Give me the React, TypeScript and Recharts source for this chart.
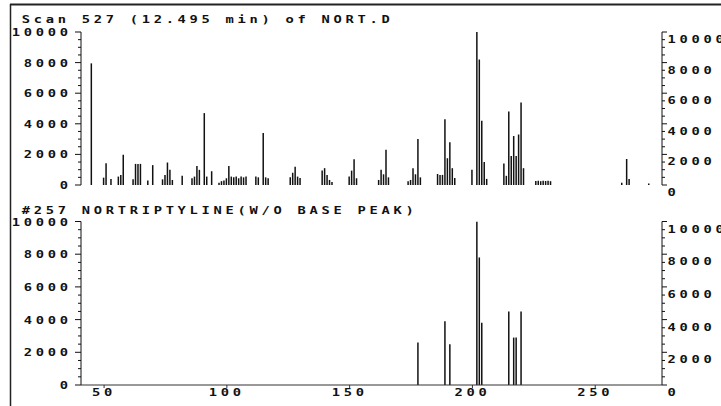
import React from 'react';
import { BarChart, Bar, XAxis, YAxis } from 'recharts';

// Scan 527 of NORT.D (m/z, abundance)
const scanMz = [
  45, 50, 51, 53, 56, 57, 58, 62, 63, 64, 65, 68, 70, 74, 75, 76, 77, 78, 82,
  86, 87, 88, 89, 91, 92, 94, 97, 98, 99, 100, 101, 102, 103, 104, 105, 106,
  107, 108, 112, 113, 115, 116, 117, 126, 127, 128, 129, 130, 139, 140, 141,
  142, 143, 150, 151, 152, 153, 162, 163, 164, 165, 166, 174, 175, 176, 177,
  178, 179, 186, 187, 188, 189, 190, 191, 192, 193, 200, 202, 203, 204, 205,
  206, 213, 214, 215, 216, 217, 218, 219, 220, 221, 226, 227, 228, 229, 230,
  231, 232, 261, 263, 264, 272,
];
const scanAbundance = [
  7950, 480, 1420, 400, 550, 650, 1970, 370, 1380, 1380, 1380, 300, 1300, 370,
  660, 1470, 990, 330, 600, 440, 550, 1250, 990, 4700, 550, 900, 150, 250, 300,
  440, 1250, 550, 500, 550, 440, 550, 500, 550, 550, 500, 3400, 500, 440, 500,
  800, 1200, 550, 450, 940, 1100, 660, 330, 200, 550, 940, 1690, 440, 330, 990,
  700, 2300, 500, 250, 330, 1100, 700, 3000, 500, 720, 660, 660, 4300, 1750,
  2800, 1100, 450, 1000, 10000, 8200, 4200, 1500, 400, 1400, 600, 4800, 1900,
  3200, 1900, 3300, 5400, 1100, 260, 280, 250, 280, 260, 270, 250, 150, 1700,
  400, 100,
];

// #257 library spectrum (without base peak)
const libMz = [178, 189, 191, 202, 203, 204, 215, 217, 218, 220];
const libAbundance = [2600, 3900, 2500, 10000, 7800, 3800, 4500, 2900, 2900, 4500];

const massTicks = [50, 100, 150, 200, 250];
const labelTicks = [0, 2000, 4000, 6000, 8000, 10000];
const abundanceTicks = Array.from({ length: 21 }, (_, i) => i * 500);

const massDomain: [number, number] = [40.6, 277.2];
const abDomain: [number, number] = [0, 10000];

const scanData = scanMz.map((mz, i) => ({ mz, ab: scanAbundance[i] }));
const libData = libMz.map((mz, i) => ({ mz, ab: libAbundance[i] }));

const INK = '#111';
// plotter lettering: monospace, stretched sideways, 12px pitch
const SX = 1.25;
const txt: React.CSSProperties = {
  fontFamily: '"DejaVu Sans Mono", monospace',
  fontSize: 11,
  fontWeight: 700,
  letterSpacing: 2.98,
  fill: INK,
};

const PlotText = ({ x, y, anchor = 'start', children }: any) => (
  <text
    transform={`translate(${x},${y}) scale(${SX},1)`}
    textAnchor={anchor}
    style={txt}
  >
    {children}
  </text>
);

const LeftTick = (props: any) => {
  const { x, y, payload } = props;
  const major = labelTicks.includes(payload.value);
  return (
    <g>
      <line x1={x - (major ? 6 : 3)} x2={x} y1={y} y2={y} stroke={INK} />
      {major && (
        <PlotText x={x - 9.3} y={y + 4} anchor="end">
          {payload.value}
        </PlotText>
      )}
    </g>
  );
};

const RightTick = (props: any) => {
  const { x, y, payload } = props;
  const major = labelTicks.includes(payload.value);
  return (
    <g>
      <line x1={x} x2={x + (major ? 5 : 3)} y1={y} y2={y} stroke={INK} />
      {major && (
        <PlotText x={x + 5.5} y={y + 11}>
          {payload.value}
        </PlotText>
      )}
    </g>
  );
};

const MassTick = (props: any) => {
  const { x, y, payload } = props;
  return (
    <PlotText x={x} y={y + 8} anchor="middle">
      {payload.value}
    </PlotText>
  );
};

interface PanelProps {
  data: { mz: number; ab: number }[];
  height: number;
  top: number;
  showMass: boolean;
}

const Panel = ({ data, height, top, showMass }: PanelProps) => (
  <BarChart
    width={721}
    height={height}
    data={data}
    margin={{ top, right: 0, bottom: showMass ? 0 : 15, left: 0 }}
  >
    <XAxis
      type="number"
      dataKey="mz"
      domain={massDomain}
      allowDataOverflow
      ticks={massTicks}
      interval={0}
      hide={!showMass}
      height={21}
      tickSize={3}
      tickMargin={0}
      stroke="#333"
      tick={<MassTick />}
    />
    <YAxis
      yAxisId="l"
      width={81}
      domain={abDomain}
      allowDataOverflow
      ticks={abundanceTicks}
      interval={0}
      tickSize={0}
      tickMargin={0}
      tickLine={false}
      stroke={INK}
      tick={<LeftTick />}
    />
    <YAxis
      yAxisId="r"
      orientation="right"
      width={59}
      type="number"
      domain={abDomain}
      allowDataOverflow
      ticks={abundanceTicks}
      interval={0}
      tickSize={0}
      tickMargin={0}
      tickLine={false}
      stroke={INK}
      tick={<RightTick />}
    />
    <Bar yAxisId="l" dataKey="ab" fill={INK} barSize={1.5} isAnimationActive={false} />
  </BarChart>
);

export default function App() {
  return (
    <div
      style={{
        position: 'absolute',
        left: 0,
        top: 0,
        width: 721,
        height: 406,
        background: '#fff',
        overflow: 'hidden',
      }}
    >
      <div style={{ position: 'absolute', left: 0, top: 0 }}>
        <Panel data={scanData} height={200} top={32} showMass={false} />
      </div>
      <div style={{ position: 'absolute', left: 0, top: 200 }}>
        <Panel data={libData} height={206} top={21.5} showMass />
      </div>
      <svg
        width={721}
        height={406}
        style={{ position: 'absolute', left: 0, top: 0, pointerEvents: 'none' }}
      >
        <line x1={10.5} x2={10.5} y1={4} y2={406} stroke="#222" strokeWidth={1.5} />
        <line x1={10} x2={721} y1={4.5} y2={4.5} stroke="#222" strokeWidth={2} />
        <PlotText x={21.7} y={22.7}>
          Scan 527 (12.495 min) of NORT.D
        </PlotText>
        <PlotText x={21.7} y={213.5}>
          #257 NORTRIPTYLINE(W/O BASE PEAK)
        </PlotText>
      </svg>
    </div>
  );
}
